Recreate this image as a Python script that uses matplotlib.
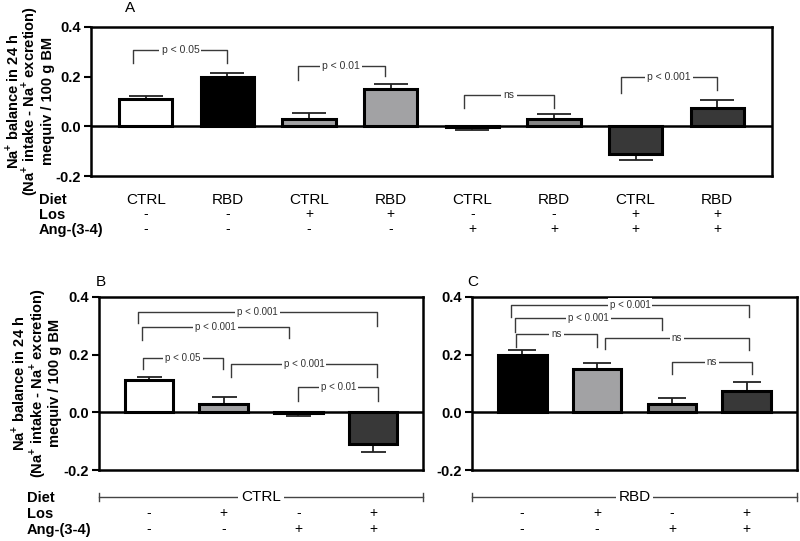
import matplotlib
matplotlib.use("Agg")
import matplotlib.pyplot as plt
from matplotlib import transforms

plt.rcParams['font.family'] = ['Liberation Sans', 'DejaVu Sans']
plt.rcParams['mathtext.fontset'] = 'custom'
plt.rcParams['mathtext.rm'] = 'Liberation Sans'
plt.rcParams['mathtext.bf'] = 'Liberation Sans:bold'

# --- data (panel A order) ---
diet = ['CTRL', 'RBD', 'CTRL', 'RBD', 'CTRL', 'RBD', 'CTRL', 'RBD']
los = ['-', '-', '+', '+', '-', '-', '+', '+']
ang = ['-', '-', '-', '-', '+', '+', '+', '+']
na_balance = [0.111, 0.200, 0.029, 0.149, -0.004, 0.030, -0.111, 0.073]
sem = [0.012, 0.016, 0.024, 0.021, 0.010, 0.019, 0.026, 0.032]
bar_colors = ['white', 'black', '#a2a2a4', '#a2a2a4',
              '#858585', '#858585', '#383838', '#383838']

idx_ctrl = [0, 2, 4, 6]
idx_rbd = [1, 3, 5, 7]

# brackets: (i, j, label, top, left leg end, right leg end, dx left, dx right)
brackets_a = [
    (0, 1, 'p < 0.05', 0.306, 0.254, 0.254, -0.15, 0.0),
    (2, 3, 'p < 0.01', 0.243, 0.186, 0.202, -0.14, -0.07),
    (4, 5, 'ns', 0.127, 0.074, 0.074, -0.10, 0.0),
    (6, 7, 'p < 0.001', 0.197, 0.133, 0.146, -0.18, 0.0),
]
brackets_b = [
    (0, 3, 'p < 0.001', 0.349, 0.310, 0.300, -0.15, 0.05),
    (0, 2, 'p < 0.001', 0.297, 0.250, 0.258, -0.09, -0.13),
    (0, 1, 'p < 0.05', 0.190, 0.150, 0.150, -0.08, -0.01),
    (1, 3, 'p < 0.001', 0.168, 0.123, 0.123, 0.10, 0.05),
    (2, 3, 'p < 0.01', 0.087, 0.040, 0.040, 0.00, 0.07),
]
brackets_c = [
    (0, 3, 'p < 0.001', 0.372, 0.330, 0.330, -0.15, 0.03),
    (0, 2, 'p < 0.001', 0.326, 0.280, 0.285, -0.10, -0.13),
    (0, 1, 'ns', 0.271, 0.228, 0.228, -0.08, 0.0),
    (1, 3, 'ns', 0.259, 0.219, 0.216, 0.10, 0.03),
    (2, 3, 'ns', 0.173, 0.133, 0.133, 0.00, 0.07),
]

ylabel_lines = ['Na$^\\mathbf{+}$ balance in 24 h',
                '(Na$^\\mathbf{+}$ intake - Na$^\\mathbf{+}$ excretion)',
                'mequiv / 100 g BM']

W, H = 800, 541
fig = plt.figure(figsize=(8, 5.41), dpi=100)


def fy(py):
    return 1 - py / H


def make_axes(l, t, r, b):
    return fig.add_axes([l / W, fy(b), (r - l) / W, (b - t) / H])


def draw_panel(ax, idx, brackets, capsize, pfont):
    vals = [na_balance[i] for i in idx]
    errs = [sem[i] for i in idx]
    cols = [bar_colors[i] for i in idx]
    x = list(range(len(idx)))
    lower = [e if v < 0 else 0 for v, e in zip(vals, errs)]
    upper = [0 if v < 0 else e for v, e in zip(vals, errs)]
    ax.errorbar(x, vals, yerr=[lower, upper], fmt='none', ecolor='#222222',
                elinewidth=1.3, capsize=capsize, capthick=1.3, zorder=1)
    ax.bar(x, vals, width=0.65, color=cols, edgecolor='black', linewidth=2.2, zorder=2)
    ax.axhline(0, color='black', lw=1.8, zorder=3)
    for i, j, lab, top, yl, yr, dl, dr in brackets:
        xl, xr = i + dl, j + dr
        ax.plot([xl, xl, xr, xr], [yl, top, top, yr], color='#3a3a3a', lw=1.0, zorder=1)
        ax.text((xl + xr) / 2, top, lab, ha='center', va='center', fontsize=pfont,
                color='#333333', bbox=dict(facecolor='white', edgecolor='none', pad=1.5))
    ax.set_xlim(-0.67, len(idx) - 0.33)
    ax.set_ylim(-0.2, 0.4)
    ax.set_yticks([-0.2, 0.0, 0.2, 0.4])
    ax.set_yticklabels(['-0.2', '0.0', '0.2', '0.4'], fontweight='bold')
    ax.set_xticks([])
    ax.tick_params(axis='y', direction='out', length=5, width=1.5, labelsize=10.5, pad=2)
    for s in ax.spines.values():
        s.set_linewidth(1.8)


def draw_ylabel(px_list, py):
    for line, px in zip(ylabel_lines, px_list):
        fig.text(px / W, fy(py), line, rotation=90, ha='center', va='center',
                 fontsize=10.5, fontweight='bold')


# --- panel A ---
axA = make_axes(91, 27, 772, 176)
draw_panel(axA, list(range(8)), brackets_a, 12, 7.5)
draw_ylabel([12, 30, 48], 101)
fig.text(130 / W, fy(8), 'A', fontsize=11, ha='center', va='center')

trA = transforms.blended_transform_factory(axA.transData, fig.transFigure)
for k in range(8):
    fig.text(k, fy(200), diet[k], transform=trA, ha='center', va='center', fontsize=11)
    fig.text(k, fy(214), los[k], transform=trA, ha='center', va='center', fontsize=10)
    fig.text(k, fy(229), ang[k], transform=trA, ha='center', va='center', fontsize=10)
for lab, py in [('Diet', 200), ('Los', 215), ('Ang-(3-4)', 230)]:
    fig.text(39 / W, fy(py), lab, ha='left', va='center', fontsize=10.5, fontweight='bold')

# --- panel B ---
axB = make_axes(99, 297, 423, 470)
draw_panel(axB, idx_ctrl, brackets_b, 9, 7)
draw_ylabel([18, 37, 55], 383)
fig.text(101 / W, fy(282), 'B', fontsize=11, ha='center', va='center')

# --- panel C ---
axC = make_axes(472, 297, 797, 470)
draw_panel(axC, idx_rbd, brackets_c, 10, 7)
fig.text(473 / W, fy(282), 'C', fontsize=11, ha='center', va='center')

for ax, name, idx in [(axB, 'CTRL', idx_ctrl), (axC, 'RBD', idx_rbd)]:
    tr = transforms.blended_transform_factory(ax.transAxes, fig.transFigure)
    ax.plot([0, 1], [fy(497), fy(497)], transform=tr, color='#444444', lw=1.0, clip_on=False)
    for xe in (0, 1):
        ax.plot([xe, xe], [fy(493), fy(501)], transform=tr, color='#444444', lw=1.0, clip_on=False)
    ax.text(0.5, fy(497), name, transform=tr, ha='center', va='center', fontsize=11,
            bbox=dict(facecolor='white', edgecolor='none', pad=2))
    trd = transforms.blended_transform_factory(ax.transData, fig.transFigure)
    for k, i in enumerate(idx):
        ax.text(k, fy(513), los[i], transform=trd, ha='center', va='center', fontsize=10)
        ax.text(k, fy(529), ang[i], transform=trd, ha='center', va='center', fontsize=10)

for lab, py in [('Diet', 498), ('Los', 514), ('Ang-(3-4)', 530)]:
    fig.text(27 / W, fy(py), lab, ha='left', va='center', fontsize=10.5, fontweight='bold')

fig.savefig('out.png', dpi=100)
